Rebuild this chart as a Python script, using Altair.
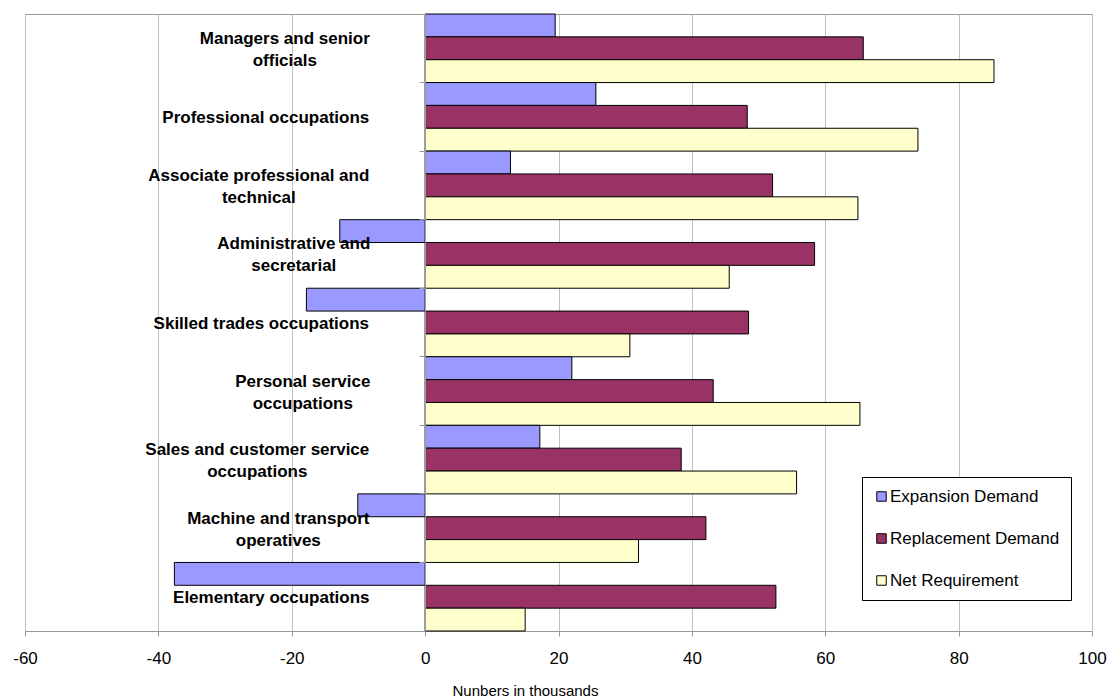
import altair as alt
import pandas as pd

categories = [
    "Managers and senior officials",
    "Professional occupations",
    "Associate professional and technical",
    "Administrative and secretarial",
    "Skilled trades occupations",
    "Personal service occupations",
    "Sales and customer service occupations",
    "Machine and transport operatives",
    "Elementary occupations",
]
label_lines = [
    ["Managers and senior", "officials"],
    ["Professional occupations"],
    ["Associate professional and", "technical"],
    ["Administrative and", "secretarial"],
    ["Skilled trades occupations"],
    ["Personal service", "occupations"],
    ["Sales and customer service", "occupations"],
    ["Machine and transport", "operatives"],
    ["Elementary occupations"],
]
series = ["Expansion Demand", "Replacement Demand", "Net Requirement"]
expansion = [19.5, 25.6, 12.8, -12.8, -17.8, 22.0, 17.2, -10.1, -37.6]
replacement = [65.7, 48.3, 52.1, 58.4, 48.5, 43.2, 38.4, 42.1, 52.6]
net_requirement = [85.3, 73.9, 64.9, 45.6, 30.7, 65.2, 55.7, 32.0, 15.0]
x_ticks = [-60, -40, -20, 0, 20, 40, 60, 80, 100]
colors = ["#9999FF", "#993366", "#FFFFCC"]

rows = []
for i, c in enumerate(categories):
    for s, vals in zip(series, [expansion, replacement, net_requirement]):
        rows.append({"category": c, "series": s, "value": vals[i]})
df = pd.DataFrame(rows)

# layout: horizontal offset (px) of each centred label block from the axis
label_pad = [134.7, 153.7, 160.7, 125.7, 158.2, 116.7, 162.2, 141.2, 148.2]

def js_list(items):
    return "[" + ",".join(items) + "]"

cat_js = js_list(["'" + c + "'" for c in categories])
lines_js = js_list([js_list(["'" + l + "'" for l in ls]) for ls in label_lines])
pad_js = js_list([str(p) for p in label_pad])
nlines_js = js_list([str(len(ls)) for ls in label_lines])

idx = f"indexof({cat_js}, datum.value)"
label_expr = f"{lines_js}[{idx}]"
pad_expr = f"{pad_js}[{idx}]"
offset_expr = f"1.5 - ({nlines_js}[{idx}] - 1) * 11"

FONT = "Liberation Sans"

bars = alt.Chart(df).mark_bar(stroke="black", strokeWidth=1).encode(
    x=alt.X(
        "value:Q",
        scale=alt.Scale(domain=[-60, 100], nice=False, zero=False),
        axis=alt.Axis(
            values=x_ticks,
            grid=True,
            gridColor="#C0C0C0",
            gridWidth=1,
            domainColor="#999999",
            tickColor="#999999",
            tickSize=5,
            labelFont=FONT,
            labelFontSize=17,
            labelColor="black",
            labelBaseline="middle",
            labelPadding=22,
            labelFlush=False,
            labelExpr="'' + datum.value",
            title="Nunbers in thousands",
            titleFont=FONT,
            titleFontSize=15,
            titleFontWeight="normal",
            titleColor="black",
            titleX=500,
            titleY=59,
            titleBaseline="middle",
            titleAlign="center",
            zindex=0,
        ),
    ),
    y=alt.Y(
        "category:N",
        sort=categories,
        scale=alt.Scale(paddingInner=0, paddingOuter=0),
        axis=alt.Axis(
            title=None,
            orient="left",
            offset=-400,
            grid=False,
            domainColor="#999999",
            tickColor="#999999",
            tickSize=6,
            bandPosition=0,
            labelFont=FONT,
            labelFontSize=17,
            labelFontWeight="bold",
            labelColor="black",
            labelAlign="center",
            labelBaseline="middle",
            labelLineHeight=22,
            labelLimit=0,
            labelExpr=label_expr,
            labelPadding=alt.ExprRef(expr=pad_expr),
            labelOffset=alt.ExprRef(expr=offset_expr),
            zindex=1,
        ),
    ),
    yOffset=alt.YOffset(
        "series:N", sort=series, scale=alt.Scale(paddingInner=0, paddingOuter=0)
    ),
    fill=alt.Fill(
        "series:N",
        sort=series,
        scale=alt.Scale(domain=series, range=colors),
        legend=alt.Legend(
            title=None,
            orient="none",
            legendX=837,
            legendY=463,
            direction="vertical",
            strokeColor="black",
            fillColor="white",
            padding=11,
            symbolType="square",
            symbolSize=90,
            symbolStrokeColor="black",
            symbolStrokeWidth=1,
            symbolOpacity=1,
            labelFont=FONT,
            labelFontSize=17,
            labelColor="black",
            labelOffset=0,
            rowPadding=24,
            labelLimit=0,
        ),
    ),
)

chart = bars.properties(
    width=1067,
    height=617,
    padding={"left": 25, "top": 14, "right": 17, "bottom": 66},
    autosize=alt.AutoSizeParams(type="none"),
    background="white",
).configure_view(stroke="#999999", strokeWidth=1)

chart.save("out.html", embed_options={"renderer": "svg", "actions": False})
